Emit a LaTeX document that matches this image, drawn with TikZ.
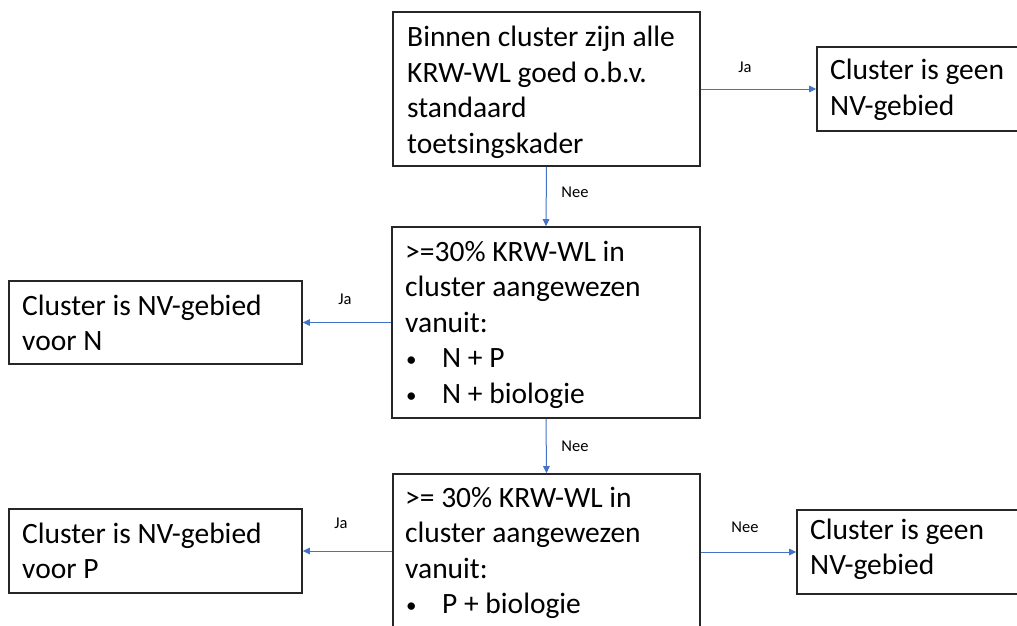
\documentclass[tikz,border=0pt]{standalone}
\usepackage{fontspec}
\setmainfont{Carlito}
\usetikzlibrary{arrows.meta}
\definecolor{arrblue}{RGB}{68,114,196}
\tikzset{
  box/.style={draw=black!85, line width=1.6pt, rectangle, inner sep=0pt},
  txt/.style={anchor=base west, inner sep=0pt, font=\fontsize{29.5}{35.5}\selectfont},
  lbl/.style={inner sep=0pt, font=\fontsize{16.5}{18}\selectfont},
  conn/.style={draw=arrblue, line width=1pt, -{Triangle[length=7pt,width=6.5pt]}},
}
\newcommand{\lines}[1]{\begin{tabular}[t]{@{}l@{}}#1\end{tabular}}
\newcommand{\bul}{\makebox[37pt][l]{\hspace{1pt}\raisebox{1pt}{\fontsize{21}{21}\selectfont •}}}
\begin{document}
\begin{tikzpicture}[x=1pt,y=-1pt]
\useasboundingbox (0,0) rectangle (1017,626);
% boxes (corners in pixel coordinates)
\node[box, minimum width=307pt, minimum height=154pt] (b1) at (546.5,89) {};
\node[box, minimum width=213pt, minimum height=84pt] (g1) at (923.5,89) {};
\node[box, minimum width=308pt, minimum height=191pt] (b2) at (546,322.5) {};
\node[box, minimum width=293pt, minimum height=83pt] (bn) at (155.5,322.5) {};
\node[box, minimum width=307pt, minimum height=166pt] (b3) at (546.5,557) {};
\node[box, minimum width=293pt, minimum height=84pt] (bp) at (155.5,551) {};
\node[box, minimum width=233pt, minimum height=84pt] (g2) at (913.5,552) {};
% texts
\node[txt] (t1) at (407,47) {\lines{Binnen cluster zijn alle\\KRW-WL goed o.b.v.\\standaard\\toetsingskader}};
\node[txt] (tg1) at (830,80) {\lines{Cluster is geen\\NV-gebied}};
\node[txt] (t2) at (405,261) {\lines{>=30\% KRW-WL in\\cluster aangewezen\\vanuit:\\\bul N + P\\\bul N + biologie}};
\node[txt] (tn) at (22,315) {\lines{Cluster is NV-gebied\\voor N}};
\node[txt] (t3) at (405,507) {\lines{>= 30\% KRW-WL in\\cluster aangewezen\\vanuit:\\\bul P + biologie}};
\node[txt] (tp) at (22,543) {\lines{Cluster is NV-gebied\\voor P}};
\node[txt] (tg2) at (810,539) {\lines{Cluster is geen\\NV-gebied}};
% connectors
\draw[conn] (b1.east |- g1.west) -- (g1.west);
\draw[conn] (b1.south) -- (b2.north);
\draw[conn] (b2.west |- bn.east) -- (bn.east);
\draw[conn] (b2.south) -- (b3.north);
\draw[conn] (b3.west |- bp.east) -- (bp.east);
\draw[conn] (b3.east |- g2.west) -- (g2.west);
% labels
\node[lbl] (l1) at (745,67) {Ja};
\node[lbl] (l2) at (575,192) {Nee};
\node[lbl] (l3) at (345,299) {Ja};
\node[lbl] (l4) at (575,446) {Nee};
\node[lbl] (l5) at (341,523) {Ja};
\node[lbl] (l6) at (745,527) {Nee};
\end{tikzpicture}
\end{document}
